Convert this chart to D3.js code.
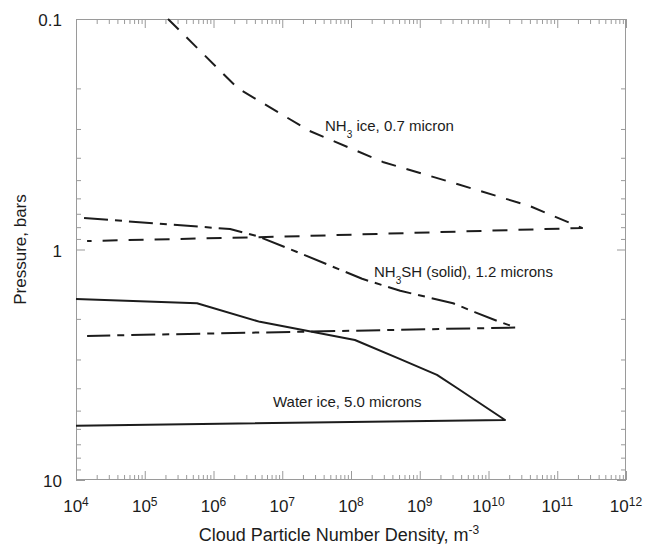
<!DOCTYPE html>
<html><head><meta charset="utf-8">
<script src="https://cdn.jsdelivr.net/npm/d3@7"></script>
<style>body{margin:0;background:#fff}svg{display:block}</style>
</head><body><svg id="c" width="645" height="544"></svg>
<script>
// ---- data ----
const xTickValues = [1e4, 1e5, 1e6, 1e7, 1e8, 1e9, 1e10, 1e11, 1e12];
const xTickExponents = ["4", "5", "6", "7", "8", "9", "10", "11", "12"];
const yTickValues = [0.1, 1, 10];
const yTickLabels = ["0.1", "1", "10"];

// NH3 ice, 0.7 micron (upper branch, then lower branch)
const nh3UpperX = [2.18e5, 2.27e6, 2.5e7, 2.9e8, 3.5e9, 4.0e10, 2.29e11];
const nh3UpperP = [0.100, 0.200, 0.306, 0.417, 0.520, 0.648, 0.807];
const nh3LowerX = [1.45e4, 9.3e6, 2.29e11];
const nh3LowerP = [0.919, 0.880, 0.807];

// NH3SH (solid), 1.2 microns
const nh4UpperX = [1.31e4, 1.74e6, 4.3e6, 1.64e7, 1.45e8, 5.2e8, 3.05e9, 6.3e9, 1.33e10, 2.5e10];
const nh4UpperP = [0.730, 0.815, 0.874, 1.025, 1.34, 1.51, 1.71, 1.87, 2.04, 2.18];
const nh4LowerX = [1.45e4, 2.5e10];
const nh4LowerP = [2.37, 2.18];

// Water ice, 5.0 microns
const waterUpperX = [1e4, 5.75e5, 4.74e6, 1.14e8, 5.2e8, 1.78e9, 3.48e9, 1.74e10];
const waterUpperP = [1.64, 1.71, 2.06, 2.47, 2.99, 3.50, 3.99, 5.49];
const waterLowerX = [1e4, 1.74e10];
const waterLowerP = [5.81, 5.49];

const labelMain = ["NH", "NH", "Water ice, 5.0 microns"];
const labelSub = ["3", "3", ""];
const labelRest = [" ice, 0.7 micron", "SH (solid), 1.2 microns", ""];
const labelX = [4.19e7, 2.16e8, 7.33e6];
const labelP = [0.306, 1.315, 4.81];

// ---- drawing ----
const svg = d3.select("#c");
const L = 76, R = 626, T = 19, B = 480;
const x = d3.scaleLog().domain([1e4, 1e12]).range([L, R]);
const y = d3.scaleLog().domain([0.1, 10]).range([T, B]);
const font = "'Liberation Sans', Arial, Helvetica, sans-serif";
const frameColor = "#9a9a9a";
const ink = "#1c1c1c";

const isMajor = v => Math.abs(Math.log10(v) - Math.round(Math.log10(v))) < 1e-9;
const xMinor = x.ticks().filter(v => !isMajor(v));
const yMinor = y.ticks().filter(v => !isMajor(v));

function styleAxis(g) {
  g.select(".domain").remove();
  g.selectAll(".tick line").attr("stroke", frameColor).attr("stroke-width", 1);
  g.selectAll(".tick text").remove();
}
function addAxis(axisFn, scale, vals, size, tx, ty) {
  svg.append("g").attr("transform", `translate(${tx},${ty})`)
    .call(axisFn(scale).tickValues(vals).tickSize(size).tickFormat(""))
    .call(styleAxis);
}
// bottom & top
addAxis(d3.axisTop, x, xMinor, 5, 0, B);
addAxis(d3.axisTop, x, xTickValues, 9, 0, B);
addAxis(d3.axisBottom, x, xMinor, 5, 0, T);
addAxis(d3.axisBottom, x, xTickValues, 9, 0, T);
// left & right
addAxis(d3.axisRight, y, yMinor, 5, L, 0);
addAxis(d3.axisRight, y, yTickValues, 9, L, 0);
addAxis(d3.axisLeft, y, yMinor, 5, R, 0);
addAxis(d3.axisLeft, y, yTickValues, 9, R, 0);

svg.append("rect").attr("x", L + 0.5).attr("y", T + 0.5)
  .attr("width", R - L - 1).attr("height", B - T - 1)
  .attr("fill", "none").attr("stroke", frameColor).attr("stroke-width", 1);

// tick labels
xTickValues.forEach((v, i) => {
  const t = svg.append("text").attr("x", x(v)).attr("y", 512)
    .attr("text-anchor", "middle").attr("font-family", font).attr("fill", ink)
    .attr("font-size", 17);
  t.append("tspan").text("10");
  t.append("tspan").attr("font-size", 12).attr("dy", -6).text(xTickExponents[i]);
});
yTickValues.forEach((v, i) => {
  svg.append("text").attr("x", 62).attr("y", y(v) + 7)
    .attr("text-anchor", "end").attr("font-family", font).attr("fill", ink)
    .attr("font-size", 17).text(yTickLabels[i]);
});

// axis titles
const xt = svg.append("text").attr("x", 339).attr("y", 541)
  .attr("text-anchor", "middle").attr("font-family", font).attr("fill", ink).attr("font-size", 18);
xt.append("tspan").text("Cloud Particle Number Density, m");
xt.append("tspan").attr("font-size", 12).attr("dy", -7).text("-3");

svg.append("text").attr("transform", `translate(26,${(T + B) / 2}) rotate(-90)`)
  .attr("text-anchor", "middle").attr("font-family", font).attr("fill", ink)
  .attr("font-size", 17).text("Pressure, bars");

// curves
const line = d3.line().x(d => x(d[0])).y(d => y(d[1]));
function loop(ux, up, lx, lp) {
  const upper = ux.map((v, i) => [v, up[i]]);
  const lower = lx.map((v, i) => [v, lp[i]]).reverse();
  return upper.concat(lower);
}
const g = svg.append("g").attr("fill", "none").attr("stroke", ink)
  .attr("stroke-width", 2).attr("stroke-linejoin", "round");
g.append("path").attr("d", line(loop(nh3UpperX, nh3UpperP, nh3LowerX, nh3LowerP)))
  .attr("stroke-dasharray", "15,11");
g.append("path").attr("d", line(loop(nh4UpperX, nh4UpperP, nh4LowerX, nh4LowerP)))
  .attr("stroke-dasharray", "24,7,7,7");
g.append("path").attr("d", line(loop(waterUpperX, waterUpperP, waterLowerX, waterLowerP)));

// annotations
labelMain.forEach((m, i) => {
  const t = svg.append("text").attr("x", x(labelX[i])).attr("y", y(labelP[i]))
    .attr("font-family", font).attr("fill", ink).attr("font-size", 15);
  t.append("tspan").text(m);
  if (labelSub[i]) {
    t.append("tspan").attr("font-size", 10).attr("dy", 7).text(labelSub[i]);
    t.append("tspan").attr("dy", -7).text(labelRest[i]);
  }
});
</script>
</body></html>
